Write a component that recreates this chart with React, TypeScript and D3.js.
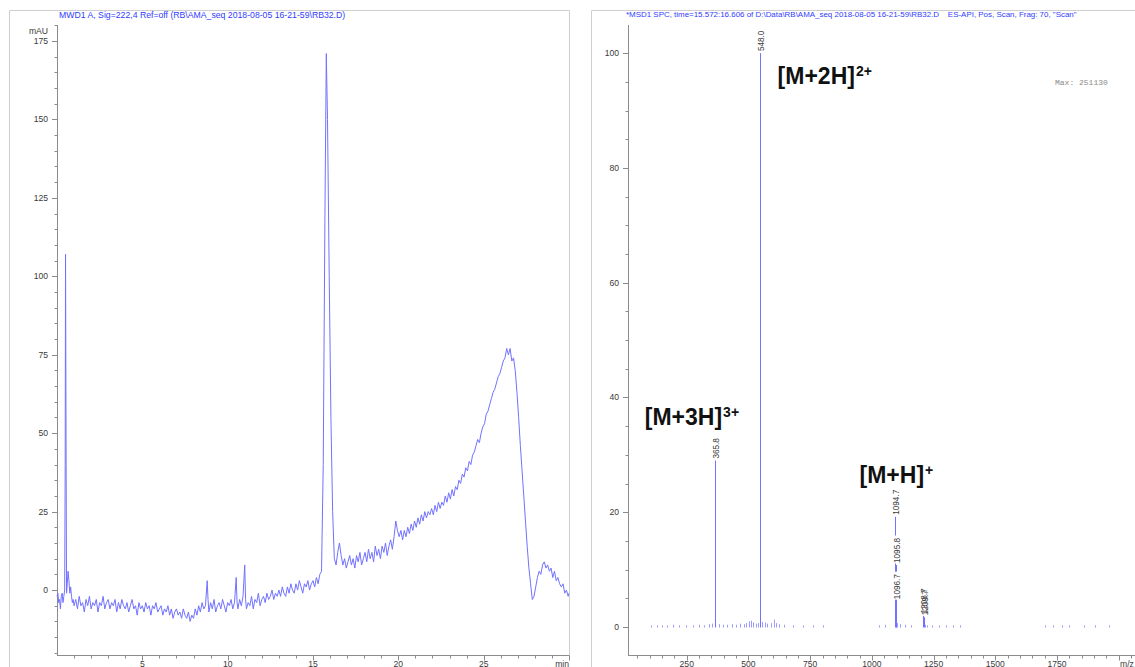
import React from "react";
import * as d3 from "d3";

// ---------- UV chromatogram (time [min], absorbance [mAU]) ----------
const uvTrace: [number, number][] = [
  [0.0, -2], [0.05, -1], [0.1, -4], [0.15, -3], [0.2, -6], [0.25, -2], [0.3, -1], [0.35, -4], [0.4, -2], [0.45, 0],
  [0.48, 40], [0.5, 107], [0.53, 50], [0.56, -1], [0.6, 2], [0.65, 6], [0.7, 3], [0.75, -1], [0.8, 1], [0.85, -2],
  [0.9, -4], [0.95, -3], [1.0, -5],
  [1.1, -3], [1.2, -6], [1.3, -2], [1.4, -5], [1.5, -4], [1.6, -7], [1.7, -3], [1.8, -5], [1.9, -2], [2.0, -6],
  [2.1, -4], [2.2, -5], [2.3, -3], [2.4, -7], [2.5, -4], [2.6, -5], [2.7, -2], [2.8, -6], [2.9, -4], [3.0, -3],
  [3.1, -6], [3.2, -4], [3.3, -5], [3.4, -3], [3.5, -7], [3.6, -4], [3.7, -6], [3.8, -3], [3.9, -5], [4.0, -6],
  [4.1, -4], [4.2, -7], [4.3, -5], [4.4, -3], [4.5, -6], [4.6, -5], [4.7, -8], [4.8, -4], [4.9, -6], [5.0, -5],
  [5.1, -7], [5.2, -4], [5.3, -6], [5.4, -5], [5.5, -8], [5.6, -5], [5.7, -6], [5.8, -4], [5.9, -7], [6.0, -6],
  [6.1, -5], [6.2, -8], [6.3, -6], [6.4, -7], [6.5, -5], [6.6, -8], [6.7, -6], [6.8, -9], [6.9, -7], [7.0, -6],
  [7.1, -8], [7.2, -7], [7.3, -9], [7.4, -6], [7.5, -8], [7.6, -9], [7.7, -7], [7.8, -10], [7.9, -8], [8.0, -9],
  [8.1, -6], [8.2, -8], [8.3, -5], [8.4, -7], [8.5, -4], [8.6, -6], [8.7, -5], [8.8, 3], [8.85, -3], [8.9, -7], [9.0, -4],
  [9.1, -6], [9.2, -3], [9.3, -7], [9.4, -5], [9.5, -4], [9.6, -6], [9.7, -3], [9.8, -5], [9.9, -7], [10.0, -4],
  [10.1, -5], [10.2, -3], [10.3, -6], [10.4, -4], [10.5, 4], [10.55, -4], [10.6, -6], [10.7, -3], [10.8, -5], [10.9, -2],
  [11.0, 8], [11.05, -3], [11.1, -6],
  [11.2, -4], [11.3, -5], [11.4, -2], [11.5, -6], [11.6, -3], [11.7, -4], [11.8, -1], [11.9, -5], [12.0, -3],
  [12.1, -2], [12.2, -4], [12.3, -1], [12.4, -3], [12.5, -2], [12.6, 0], [12.7, -3], [12.8, -1], [12.9, -2], [13.0, 0],
  [13.1, -2], [13.2, 1], [13.3, -1], [13.4, -2], [13.5, 1], [13.6, -1], [13.7, 2], [13.8, 0], [13.9, -1], [14.0, 2],
  [14.1, 0], [14.2, 3], [14.3, 1], [14.4, -1], [14.5, 2], [14.6, 1], [14.7, 3], [14.8, 0], [14.9, 2], [15.0, 3],
  [15.1, 1], [15.2, 4], [15.3, 2], [15.4, 5], [15.5, 6], [15.6, 40], [15.7, 120], [15.78, 171], [15.85, 150],
  [15.95, 100], [16.05, 55], [16.15, 25], [16.25, 10], [16.35, 8], [16.45, 12], [16.55, 15], [16.65, 11],
  [16.75, 8], [16.85, 10], [16.95, 7], [17.05, 9], [17.15, 11], [17.25, 8], [17.35, 10], [17.45, 7], [17.55, 11],
  [17.65, 9], [17.75, 12], [17.85, 8], [17.95, 10], [18.05, 12],
  [18.15, 9], [18.25, 13], [18.35, 10], [18.45, 12], [18.55, 9], [18.65, 14], [18.75, 11], [18.85, 13], [18.95, 10],
  [19.05, 14], [19.15, 12], [19.25, 15], [19.35, 11], [19.45, 14], [19.55, 16], [19.65, 13], [19.75, 17], [19.85, 22],
  [19.95, 19],
  [20.05, 17], [20.15, 19], [20.25, 16], [20.35, 19], [20.45, 17], [20.55, 20], [20.65, 18], [20.75, 21], [20.85, 19], [20.95, 22],
  [21.05, 20], [21.15, 23], [21.25, 21], [21.35, 24], [21.45, 22], [21.55, 25], [21.65, 23], [21.75, 25], [21.85, 24], [21.95, 26],
  [22.05, 24], [22.15, 27], [22.25, 25], [22.35, 28], [22.45, 26], [22.55, 28], [22.65, 27], [22.75, 30], [22.85, 28], [22.95, 31],
  [23.05, 29], [23.15, 32], [23.25, 30], [23.35, 33], [23.45, 32], [23.55, 35], [23.65, 34], [23.75, 37], [23.85, 36], [23.95, 39],
  [24.05, 38], [24.15, 41], [24.25, 40], [24.35, 43], [24.45, 44], [24.55, 46], [24.65, 48], [24.75, 47], [24.85, 50], [24.95, 52],
  [25.05, 53], [25.15, 56], [25.25, 57], [25.35, 59], [25.45, 61], [25.55, 63], [25.65, 64], [25.75, 66], [25.85, 68], [25.95, 69],
  [26.05, 71], [26.15, 73], [26.25, 74], [26.35, 77], [26.45, 75], [26.55, 77], [26.65, 73], [26.75, 74], [26.85, 70], [26.95, 63],
  [27.05, 55], [27.15, 46], [27.25, 38], [27.35, 30], [27.45, 22], [27.55, 14], [27.65, 7], [27.75, 2], [27.85, -3], [27.95, -2],
  [28.05, 1], [28.15, 4], [28.25, 6], [28.35, 5], [28.45, 8], [28.55, 9], [28.65, 7], [28.75, 8], [28.85, 6], [28.95, 7],
  [29.05, 4], [29.15, 6], [29.25, 3], [29.35, 4], [29.45, 2], [29.55, 1], [29.65, 2], [29.75, -1], [29.85, 0], [29.95, -2], [30.0, -1],
];

const uvMajorTicks = [0, 25, 50, 75, 100, 125, 150, 175];
const uvTimeLabels = [5, 10, 15, 20, 25];

// ---------- Mass spectrum (m/z, relative abundance %) ----------
const msPeakMz = [365.8, 548.0, 1094.7, 1095.8, 1096.7, 1208.7, 1209.7];
const msPeakInt = [29, 100, 19.2, 10.8, 4.5, 2.0, 1.7];
const msPeakLabels = ["365.8", "548.0", "1094.7", "1095.8", "1096.7", "1208.7", "1209.7"];

const msMinorMz = [105, 128, 150, 172, 196, 220, 248, 275, 300, 318, 340, 352, 380, 398, 415, 432, 450, 466, 480, 492,
  503, 512, 520, 530, 538, 556, 566, 575, 590, 602, 612, 625, 645, 680, 720, 760, 800, 1030, 1052, 1102, 1115, 1135,
  1160, 1215, 1225, 1245, 1270, 1300, 1330, 1355, 1700, 1735, 1770, 1800, 1860, 1905, 1960];
const msMinorInt = [0.2, 0.2, 0.2, 0.2, 0.3, 0.2, 0.2, 0.2, 0.3, 0.2, 0.4, 0.5, 0.4, 0.3, 0.3, 0.4, 0.3, 0.5, 0.4, 0.6,
  0.9, 1.0, 0.7, 0.5, 0.6, 0.8, 0.7, 0.5, 0.6, 1.2, 0.6, 0.4, 0.3, 0.2, 0.2, 0.2, 0.2, 0.2, 0.3, 0.6, 0.4, 0.3,
  0.2, 0.3, 0.2, 0.2, 0.2, 0.2, 0.2, 0.2, 0.2, 0.2, 0.2, 0.2, 0.2, 0.2, 0.2];

const msMajorTicks = [0, 20, 40, 60, 80, 100];
const msMzLabels = [250, 500, 750, 1000, 1250, 1500, 1750];

const ionNames = ["[M+3H]", "[M+2H]", "[M+H]"];
const ionCharges = ["3+", "2+", "+"];
const ionAnchorMz = [80, 618, 950];
const ionAnchorInt = [35.2, 94.6, 25.1];

const uvTitle = "MWD1 A, Sig=222,4 Ref=off (RB\\AMA_seq 2018-08-05 16-21-59\\RB32.D)";
const msTitle = "*MSD1 SPC, time=15.572:16.606 of D:\\Data\\RB\\AMA_seq 2018-08-05 16-21-59\\RB32.D    ES-API, Pos, Scan, Frag: 70, \"Scan\"";
const msMaxText = "Max: 251130";

const FONT = "'Liberation Sans', Arial, Helvetica, sans-serif";
const TRACE = "#7272ff";
const AXIS = "#8c8c8c";
const FRAME = "#cfcfcf";
const TXT = "#3a3a3a";
const TITLE = "#2f3cff";

export default function App() {
  // left panel scales
  const xL = d3.scaleLinear().domain([0, 30]).range([57, 569]);
  const yL = d3.scaleLinear().domain([-20.7, 180.1]).range([655, 25]);
  // right panel scales
  const xR = d3.scaleLinear().domain([12, 2086]).range([628, 1140]);
  const yR = d3.scaleLinear().domain([-4.88, 104.9]).range([655, 25]);

  const line = d3
    .line<[number, number]>()
    .x((d) => xL(d[0]))
    .y((d) => yL(d[1]));

  const uvMinor = d3.range(-20, 181, 5).filter((v) => !uvMajorTicks.includes(v));
  const uvXMinor = d3.range(1, 31, 1).filter((v) => v % 5 !== 0);
  const uvXMajor = d3.range(5, 31, 5);
  const msMinor = d3.range(0, 105, 5).filter((v) => !msMajorTicks.includes(v));
  const msXMinor = d3.range(50, 2086, 50).filter((v) => v % 250 !== 0);
  const msXMajor = d3.range(250, 2086, 250);

  const fs = 8.6;
  const xLabY = 666.5;

  const labelPos = msPeakMz.map((mz, i) => ({
    x: Math.round(xR(mz)) + 0.5 + 3,
    y: yR(msPeakInt[i]) - 2,
  }));

  return (
    <svg
      width={1135}
      height={667}
      style={{ position: "absolute", left: 0, top: 0, background: "#fff" }}
      fontFamily={FONT}
    >
      <rect x={0} y={0} width={1135} height={667} fill="#fff" />
      {/* panel frames */}
      <line x1={9.5} y1={10.5} x2={9.5} y2={667} stroke={FRAME} />
      <line x1={9.5} y1={10.5} x2={569.5} y2={10.5} stroke={FRAME} />
      <line x1={591.5} y1={10.5} x2={591.5} y2={667} stroke={FRAME} />
      <line x1={591.5} y1={10.5} x2={1135} y2={10.5} stroke={FRAME} />

      {/* ---------- LEFT: UV ---------- */}
      <text x={59} y={18} fontSize={8.7} fill={TITLE}>{uvTitle}</text>
      <line x1={57.5} y1={25} x2={57.5} y2={655.5} stroke={AXIS} />
      <line x1={57} y1={655.5} x2={569.5} y2={655.5} stroke={AXIS} />
      <line x1={569.5} y1={10.5} x2={569.5} y2={655.5} stroke={FRAME} />
      {uvMajorTicks.map((v) => (
        <g key={"ly" + v}>
          <line x1={52} x2={57.5} y1={Math.round(yL(v)) + 0.5} y2={Math.round(yL(v)) + 0.5} stroke={AXIS} />
          <text x={48} y={yL(v) + 3} fontSize={fs} fill={TXT} textAnchor="end">{v}</text>
        </g>
      ))}
      {uvMinor.map((v) => (
        <line key={"lym" + v} x1={54.5} x2={57.5} y1={Math.round(yL(v)) + 0.5} y2={Math.round(yL(v)) + 0.5} stroke={AXIS} />
      ))}
      <text x={48} y={34} fontSize={fs} fill={TXT} textAnchor="end">mAU</text>
      {uvXMinor.map((v) => (
        <line key={"lxm" + v} x1={Math.round(xL(v)) + 0.5} x2={Math.round(xL(v)) + 0.5} y1={655.5} y2={658.5} stroke={AXIS} />
      ))}
      {uvXMajor.map((v) => (
        <line key={"lxM" + v} x1={Math.round(xL(v)) + 0.5} x2={Math.round(xL(v)) + 0.5} y1={655.5} y2={660.5} stroke={AXIS} />
      ))}
      {uvTimeLabels.map((v) => (
        <text key={"lxl" + v} x={xL(v)} y={xLabY} fontSize={fs} fill={TXT} textAnchor="middle">{v}</text>
      ))}
      <text x={569} y={xLabY} fontSize={fs} fill={TXT} textAnchor="end">min</text>
      <path d={line(uvTrace) || ""} fill="none" stroke={TRACE} strokeWidth={1} strokeLinejoin="round" />

      {/* ---------- RIGHT: MS ---------- */}
      <text x={626} y={17} fontSize={7.95} fill={TITLE} style={{ whiteSpace: "pre" }}>{msTitle}</text>
      <line x1={628.5} y1={25} x2={628.5} y2={655.5} stroke={AXIS} />
      <line x1={628} y1={655.5} x2={1135} y2={655.5} stroke={AXIS} />
      {msMajorTicks.map((v) => (
        <g key={"ry" + v}>
          <line x1={623} x2={628.5} y1={Math.round(yR(v)) + 0.5} y2={Math.round(yR(v)) + 0.5} stroke={AXIS} />
          <text x={619} y={yR(v) + 3} fontSize={fs} fill={TXT} textAnchor="end">{v}</text>
        </g>
      ))}
      {msMinor.map((v) => (
        <line key={"rym" + v} x1={625.5} x2={628.5} y1={Math.round(yR(v)) + 0.5} y2={Math.round(yR(v)) + 0.5} stroke={AXIS} />
      ))}
      {msXMinor.map((v) => (
        <line key={"rxm" + v} x1={Math.round(xR(v)) + 0.5} x2={Math.round(xR(v)) + 0.5} y1={655.5} y2={658.5} stroke={AXIS} />
      ))}
      {msXMajor.map((v) => (
        <line key={"rxM" + v} x1={Math.round(xR(v)) + 0.5} x2={Math.round(xR(v)) + 0.5} y1={655.5} y2={660.5} stroke={AXIS} />
      ))}
      {msMzLabels.map((v) => (
        <text key={"rxl" + v} x={xR(v)} y={xLabY} fontSize={fs} fill={TXT} textAnchor="middle">{v}</text>
      ))}
      <text x={1120} y={xLabY} fontSize={fs} fill={TXT}>m/z</text>
      <text x={1055} y={85} fontSize={8} fill="#8a8a8a" fontFamily="'Liberation Mono', 'DejaVu Sans Mono', monospace">{msMaxText}</text>

      {/* minor sticks */}
      {msMinorMz.map((mz, i) => (
        <line key={"mn" + i} x1={Math.round(xR(mz)) + 0.5} x2={Math.round(xR(mz)) + 0.5} y1={yR(0) + 0.5} y2={yR(msMinorInt[i]) - 0.5} stroke={TRACE} strokeOpacity={0.7} />
      ))}
      {/* major sticks */}
      {msPeakMz.map((mz, i) => (
        <line key={"mj" + i} x1={Math.round(xR(mz)) + 0.5} x2={Math.round(xR(mz)) + 0.5} y1={yR(0) + 0.5} y2={yR(msPeakInt[i])} stroke={TRACE} />
      ))}
      {/* ion annotations */}
      {ionNames.map((name, i) => (
        <text key={"ion" + i} x={xR(ionAnchorMz[i])} y={yR(ionAnchorInt[i])} fontSize={23} fontWeight="bold" fill="#111">
          {name}
          <tspan dx={1} dy={-8} fontSize={14}>{ionCharges[i]}</tspan>
        </text>
      ))}
      {/* stick label backgrounds, then labels */}
      {labelPos.map((p, i) => (
        <rect key={"mb" + i} transform={`translate(${p.x},${p.y}) rotate(-90)`} x={-0.5} y={-6.5}
          width={msPeakLabels[i].length * 4.5 + 1} height={7.5} fill="#fff" />
      ))}
      {labelPos.map((p, i) => (
        <text key={"ml" + i} transform={`translate(${p.x},${p.y}) rotate(-90)`} x={0} y={0} fontSize={8.2} fill={TXT}>
          {msPeakLabels[i]}
        </text>
      ))}
    </svg>
  );
}
